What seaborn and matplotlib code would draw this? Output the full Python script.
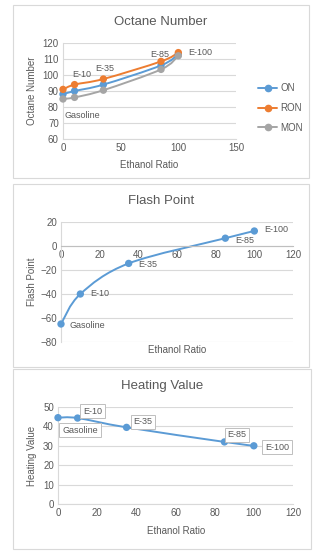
import matplotlib
matplotlib.use('Agg')
import matplotlib.pyplot as plt
import numpy as np
import pandas as pd
import seaborn as sns
from matplotlib.lines import Line2D
from matplotlib.patches import Rectangle, PathPatch
from matplotlib.path import Path

# Data
ratio = [0, 10, 35, 85, 100]
fuel_names = ['Gasoline', 'E-10', 'E-35', 'E-85', 'E-100']
on_values = [88, 90, 94, 106, 113]
ron_values = [91, 94, 97.5, 108.5, 114]
mon_values = [85, 86, 90.5, 103.5, 112]
flash_point = [-65, -40, -14.5, 6.5, 12.5]
heating_value = [44.5, 44.3, 39.5, 32, 30]

BLUE = '#5B9BD5'
ORANGE = '#ED7D31'
GRAY = '#A5A5A5'
TXT = '#595959'
GRID = '#D9D9D9'

sns.set_style('white')
plt.rcParams['font.family'] = ['Liberation Sans', 'DejaVu Sans']


def smooth_line(ax, xs, ys, color, lw=1.4):
    """Excel-like smoothed line: Catmull-Rom segments as bezier curves."""
    pts = np.column_stack([xs, ys]).astype(float)
    n = len(pts)
    verts = [pts[0]]
    codes = [Path.MOVETO]
    for i in range(n - 1):
        p0 = pts[i - 1] if i > 0 else pts[i]
        p1 = pts[i]
        p2 = pts[i + 1]
        p3 = pts[i + 2] if i + 2 < n else pts[i + 1]
        c1 = p1 + (p2 - p0) / 6.0
        c2 = p2 - (p3 - p1) / 6.0
        verts += [c1, c2, p2]
        codes += [Path.CURVE4] * 3
    ax.add_patch(PathPatch(Path(verts, codes), facecolor='none', edgecolor=color,
                           lw=lw, zorder=2, clip_on=False))


def style_axes(ax):
    for s in ['top', 'right']:
        ax.spines[s].set_visible(False)
    for s in ['left', 'bottom']:
        ax.spines[s].set_color(GRID)
        ax.spines[s].set_linewidth(0.8)
    ax.tick_params(length=0, labelsize=7, labelcolor=TXT, pad=3)
    ax.yaxis.grid(True, color=GRID, lw=0.8)
    ax.set_axisbelow(True)
    ax.set_xlabel('')
    ax.set_ylabel('')
    for c in ax.collections:
        c.set_clip_on(False)


fig = plt.figure(figsize=(3.24, 5.6), dpi=100)

# panel frames
for (x0, y0, x1, y1) in [(13, 5, 309, 178), (13, 184, 309, 367), (13, 369, 311, 549)]:
    fig.patches.append(Rectangle((x0 / 324, 1 - y1 / 560), (x1 - x0) / 324, (y1 - y0) / 560,
                                 transform=fig.transFigure, fill=False,
                                 edgecolor='#D9D9D9', lw=0.8))

# ---- Octane Number ----
ax1 = fig.add_axes([63 / 324, 1 - 139 / 560, 173 / 324, 96 / 560])
df1 = pd.DataFrame({'ratio': ratio * 3,
                    'value': on_values + ron_values + mon_values,
                    'series': ['ON'] * 5 + ['RON'] * 5 + ['MON'] * 5})
for name, col, vals in [('MON', GRAY, mon_values), ('ON', BLUE, on_values), ('RON', ORANGE, ron_values)]:
    smooth_line(ax1, ratio, vals, col)
sns.scatterplot(data=df1, x='ratio', y='value', hue='series',
                palette={'ON': BLUE, 'RON': ORANGE, 'MON': GRAY},
                s=28, edgecolor='none', legend=False, ax=ax1, zorder=3)
ax1.set_xlim(0, 150)
ax1.set_ylim(60, 120)
ax1.set_xticks([0, 50, 100, 150])
ax1.set_yticks(range(60, 121, 10))
style_axes(ax1)
ax1.annotate('Gasoline', (0, 78), xytext=(1, -4), textcoords='offset points',
             fontsize=6.5, color=TXT, va='center')
ax1.annotate('E-10', (10, ron_values[1]), xytext=(-2, 4), textcoords='offset points',
             fontsize=6.5, color=TXT, va='bottom')
ax1.annotate('E-35', (35, ron_values[2]), xytext=(-6, 4), textcoords='offset points',
             fontsize=6.5, color=TXT, va='bottom')
ax1.annotate('E-85', (85, ron_values[3]), xytext=(-8, 2), textcoords='offset points',
             fontsize=6.5, color=TXT, va='bottom')
ax1.annotate('E-100', (100, ron_values[4]), xytext=(7, 0), textcoords='offset points',
             fontsize=6.5, color=TXT, va='center')
handles = [Line2D([], [], color=c, marker='o', ms=4.5, lw=1.4) for c in (BLUE, ORANGE, GRAY)]
fig.legend(handles, ['ON', 'RON', 'MON'], loc='center left',
           bbox_to_anchor=(254 / 324, 1 - 108 / 560), frameon=False,
           fontsize=7, labelcolor=TXT, handlelength=2.0, handletextpad=0.3,
           labelspacing=1.0, borderaxespad=0)
fig.text(161 / 324, 1 - 22 / 560, 'Octane Number', ha='center', va='center',
         fontsize=9.5, color=TXT)
fig.text(149 / 324, 1 - 165 / 560, 'Ethanol Ratio', ha='center', va='center',
         fontsize=7, color=TXT)
fig.text(32 / 324, 1 - 91 / 560, 'Octane Number', ha='center', va='center',
         fontsize=7, color=TXT, rotation=90)

# ---- Flash Point ----
ax2 = fig.add_axes([61 / 324, 1 - 342 / 560, 232 / 324, 120 / 560])
df2 = pd.DataFrame({'ratio': ratio, 'value': flash_point})
smooth_line(ax2, ratio, flash_point, BLUE)
sns.scatterplot(data=df2, x='ratio', y='value', color=BLUE, s=28,
                edgecolor='none', ax=ax2, zorder=3)
ax2.set_xlim(0, 120)
ax2.set_ylim(-80, 20)
ax2.set_xticks(range(0, 121, 20))
ax2.set_yticks(range(-80, 21, 20))
style_axes(ax2)
ax2.spines['bottom'].set_position(('data', 0))
ax2.spines['bottom'].set_color('#BFBFBF')
offsets2 = [(6, -1), (7, 0), (7, -1), (7, -2), (7, 1)]
for x, y, name, off in zip(ratio, flash_point, fuel_names, offsets2):
    ax2.annotate(name, (x, y), xytext=off, textcoords='offset points',
                 fontsize=6.5, color=TXT, va='center')
fig.text(161 / 324, 1 - 201 / 560, 'Flash Point', ha='center', va='center',
         fontsize=9.5, color=TXT)
fig.text(177 / 324, 1 - 350 / 560, 'Ethanol Ratio', ha='center', va='center',
         fontsize=7, color=TXT)
fig.text(32 / 324, 1 - 282 / 560, 'Flash Point', ha='center', va='center',
         fontsize=7, color=TXT, rotation=90)

# ---- Heating Value ----
ax3 = fig.add_axes([58 / 324, 1 - 504 / 560, 235 / 324, 97 / 560])
df3 = pd.DataFrame({'ratio': ratio, 'value': heating_value})
smooth_line(ax3, ratio, heating_value, BLUE)
sns.scatterplot(data=df3, x='ratio', y='value', color=BLUE, s=28,
                edgecolor='none', ax=ax3, zorder=3)
ax3.set_xlim(0, 120)
ax3.set_ylim(0, 50)
ax3.set_xticks(range(0, 121, 20))
ax3.set_yticks(range(0, 51, 10))
style_axes(ax3)
box = dict(boxstyle='square,pad=0.3', facecolor='white', edgecolor='#BFBFBF', lw=0.7)
offsets3 = [(3, -9), (4, 5), (5, 4), (2, 5), (8, -1)]
for x, y, name, off in zip(ratio, heating_value, fuel_names, offsets3):
    ax3.annotate(name, (x, y), xytext=off, textcoords='offset points',
                 fontsize=6.5, color=TXT, va='center', ha='left', bbox=box, zorder=4)
fig.text(162 / 324, 1 - 386 / 560, 'Heating Value', ha='center', va='center',
         fontsize=9.5, color=TXT)
fig.text(176 / 324, 1 - 531 / 560, 'Ethanol Ratio', ha='center', va='center',
         fontsize=7, color=TXT)
fig.text(32 / 324, 1 - 456 / 560, 'Heating Value', ha='center', va='center',
         fontsize=7, color=TXT, rotation=90)

fig.savefig('out.png', dpi=100)
